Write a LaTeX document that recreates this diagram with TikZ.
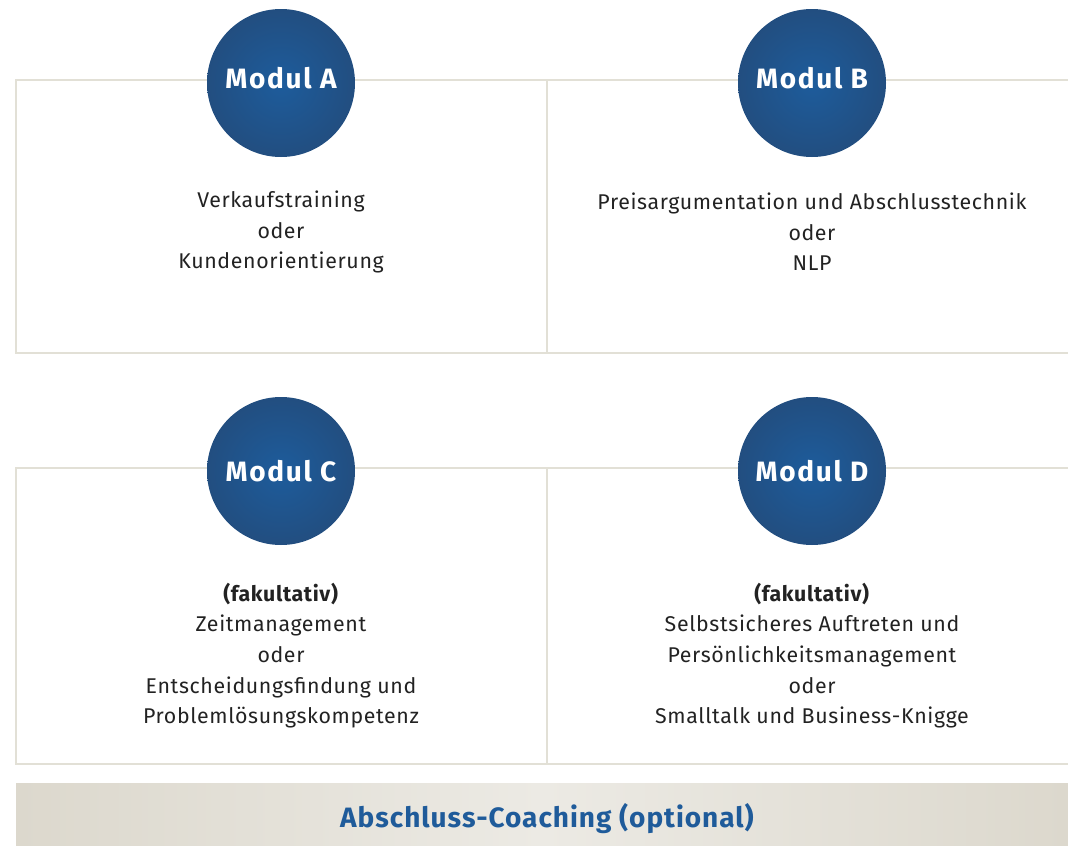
\documentclass[tikz,border=0pt]{standalone}
\usepackage{fontspec}
\setmainfont{Fira Sans}
\usetikzlibrary{shadings}
\definecolor{linec}{HTML}{E2E0D6}
\definecolor{txt}{HTML}{222222}
\definecolor{bluein}{HTML}{1D5C9C}
\definecolor{blueout}{HTML}{224E80}
\definecolor{barout}{HTML}{DCD8CD}
\definecolor{barin}{HTML}{ECEAE4}
\definecolor{bartxt}{HTML}{1F5B9A}
\newfontfamily\bodyfont[LetterSpace=3]{Fira Sans}
\newfontfamily\labelfont[LetterSpace=6]{Fira Sans}
\newfontfamily\barfont[LetterSpace=3.5]{Fira Sans}
\tikzset{
  x=0.75pt, y=-0.75pt,
  boxline/.style={draw=linec, line width=1.5pt},
  modcircle/.style={circle, minimum size=111pt, inner sep=0pt, inner color=bluein, outer color=blueout},
  modlabel/.style={text=white, inner sep=0pt, font=\labelfont\fontsize{21}{24}\selectfont\bfseries},
  bodytext/.style={align=center, text=txt, font=\bodyfont\fontsize{16}{23}\selectfont},
}
\begin{document}
\begin{tikzpicture}
\useasboundingbox (0,0) rectangle (1068,846);
% boxes
\draw[boxline] (16,80) rectangle (547,353);
\draw[boxline] (1075,80) -- (547,80) -- (547,353) -- (1075,353);
\draw[boxline] (16,468) rectangle (547,764);
\draw[boxline] (1075,468) -- (547,468) -- (547,764) -- (1075,764);
% circles
\node[modcircle] (ma) at (281,83) {};
\node[modcircle] (mb) at (812,83) {};
\node[modcircle] (mc) at (281,471) {};
\node[modcircle] (md) at (812,471) {};
\node[modlabel] (la) at (281,78.5) {Modul A};
\node[modlabel] (lb) at (812,78.5) {Modul B};
\node[modlabel] (lc) at (281,471.5) {Modul C};
\node[modlabel] (ld) at (812,471.5) {Modul D};
% texts
\node[bodytext] (ta) at (281,232) {Verkaufstraining\\oder\\Kundenorientierung};
\node[bodytext] (tb) at (812,232) {Preisargumentation und Abschlusstechnik\\oder\\NLP};
\node[bodytext] (tc) at (281,655.5) {\textbf{(fakultativ)}\\Zeitmanagement\\oder\\Entscheidungsfindung und\\Problemlösungskompetenz};
\node[bodytext] (td) at (812,655.5) {\textbf{(fakultativ)}\\Selbstsicheres Auftreten und\\Persönlichkeitsmanagement\\oder\\Smalltalk und Business-Knigge};
% bottom bar
\shade[left color=barout, right color=barout, middle color=barin] (16,783) rectangle (1068,846);
\node[text=bartxt, font=\barfont\fontsize{21}{24}\selectfont\bfseries] (bar) at (547,819) {Abschluss-Coaching (optional)};
\end{tikzpicture}
\end{document}
